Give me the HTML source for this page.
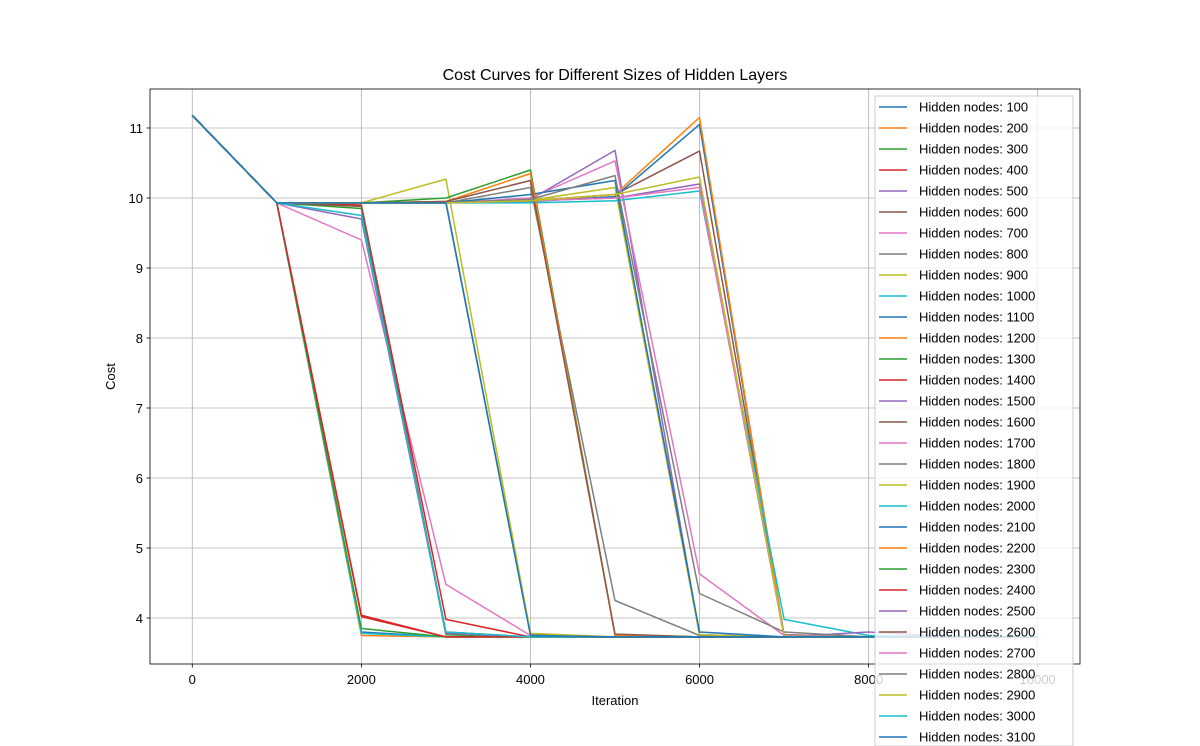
<!DOCTYPE html>
<html><head><meta charset="utf-8"><style>
html,body{margin:0;padding:0;background:#fff;width:1200px;height:746px;overflow:hidden;font-family:"Liberation Sans","DejaVu Sans",sans-serif;}
</style></head><body>
<svg id="chart" width="1200" height="746" xmlns="http://www.w3.org/2000/svg" font-family="Liberation Sans, DejaVu Sans, sans-serif"></svg>
<script>
const iterations=[0,1000,2000,3000,4000,5000,6000,7000,8000,9000,10000];
const seriesLabels=[100,200,300,400,500,600,700,800,900,1000,1100,1200,1300,1400,1500,1600,1700,1800,1900,2000,2100,2200,2300,2400,2500,2600,2700,2800,2900,3000,3100];
const s100=[11.18,9.93,3.80,3.73,3.73,3.73,3.73,3.73,3.73,3.73,3.73];
const s200=[11.18,9.93,3.75,3.73,3.73,3.73,3.73,3.73,3.73,3.73,3.73];
const s300=[11.18,9.93,9.85,3.76,3.73,3.73,3.73,3.73,3.73,3.73,3.73];
const s400=[11.18,9.93,4.04,3.73,3.73,3.73,3.73,3.73,3.73,3.73,3.73];
const s500=[11.18,9.93,9.93,9.94,9.98,10.68,3.76,3.73,3.73,3.73,3.73];
const s600=[11.18,9.93,9.93,9.93,9.96,10.05,10.67,3.76,3.73,3.73,3.73];
const s700=[11.18,9.93,9.40,4.48,3.75,3.73,3.73,3.73,3.73,3.73,3.73];
const s800=[11.18,9.93,9.93,9.95,3.76,3.73,3.73,3.73,3.73,3.73,3.73];
const s900=[11.18,9.93,9.93,10.27,3.78,3.73,3.73,3.73,3.73,3.73,3.73];
const s1000=[11.18,9.93,3.78,3.73,3.73,3.73,3.73,3.73,3.73,3.73,3.73];
const s1100=[11.18,9.93,9.93,9.93,9.95,10.02,11.05,3.75,3.73,3.73,3.73];
const s1200=[11.18,9.93,9.93,9.93,9.96,10.05,11.15,3.74,3.73,3.73,3.73];
const s1300=[11.18,9.93,9.93,10.00,10.40,3.76,3.73,3.73,3.73,3.73,3.73];
const s1400=[11.18,9.93,9.90,3.98,3.73,3.73,3.73,3.73,3.73,3.73,3.73];
const s1500=[11.18,9.93,9.70,3.78,3.73,3.73,3.73,3.73,3.73,3.73,3.73];
const s1600=[11.18,9.93,9.88,3.80,3.73,3.73,3.73,3.73,3.73,3.73,3.73];
const s1700=[11.18,9.93,9.93,9.93,10.00,10.53,4.63,3.75,3.73,3.73,3.73];
const s1800=[11.18,9.93,9.93,9.93,10.15,4.25,3.75,3.73,3.73,3.73,3.73];
const s1900=[11.18,9.93,9.93,9.93,9.97,10.15,3.76,3.73,3.73,3.73,3.73];
const s2000=[11.18,9.93,9.93,9.93,9.93,9.96,10.10,3.98,3.75,3.73,3.73];
const s2100=[11.18,9.93,9.93,9.93,10.05,10.25,3.80,3.73,3.73,3.73,3.73];
const s2200=[11.18,9.93,9.93,9.95,10.35,3.75,3.73,3.73,3.73,3.73,3.73];
const s2300=[11.18,9.93,3.85,3.73,3.73,3.73,3.73,3.73,3.73,3.73,3.73];
const s2400=[11.18,9.93,4.02,3.73,3.73,3.73,3.73,3.73,3.73,3.73,3.73];
const s2500=[11.18,9.93,9.93,9.93,9.96,10.00,10.20,3.73,3.80,3.73,3.73];
const s2600=[11.18,9.93,9.93,9.95,10.25,3.77,3.73,3.73,3.73,3.73,3.73];
const s2700=[11.18,9.93,9.93,9.93,9.96,10.00,10.15,3.74,3.73,3.73,3.73];
const s2800=[11.18,9.93,9.93,9.93,9.98,10.32,4.35,3.80,3.73,3.73,3.73];
const s2900=[11.18,9.93,9.93,9.93,9.96,10.05,10.30,3.74,3.73,3.73,3.73];
const s3000=[11.18,9.93,9.75,3.80,3.73,3.73,3.73,3.73,3.73,3.73,3.73];
const s3100=[11.18,9.93,9.93,9.93,3.75,3.73,3.73,3.73,3.73,3.73,3.73];
const allSeries=[s100,s200,s300,s400,s500,s600,s700,s800,s900,s1000,s1100,s1200,s1300,s1400,s1500,s1600,s1700,s1800,s1900,s2000,s2100,s2200,s2300,s2400,s2500,s2600,s2700,s2800,s2900,s3000,s3100];
const xTicks=[0,2000,4000,6000,8000,10000];
const yTicks=[4,5,6,7,8,9,10,11];

const colors=['#1f77b4','#ff7f0e','#2ca02c','#d62728','#9467bd','#8c564b','#e377c2','#7f7f7f','#bcbd22','#17becf'];
const L=150,R=1080,T=89,B=664;
const xMin=-500,xMax=10500,yMin=3.343,yMax=11.557;
const xs=v=>L+(v-xMin)/(xMax-xMin)*(R-L);
const ys=v=>B-(v-yMin)/(yMax-yMin)*(B-T);
const svg=document.getElementById('chart');
const NS='http://www.w3.org/2000/svg';
function mk(tag,attrs,parent){const e=document.createElementNS(NS,tag);for(const k in attrs)e.setAttribute(k,attrs[k]);(parent||svg).appendChild(e);return e;}

xTicks.forEach(t=>{const g=mk('line',{x1:xs(t),x2:xs(t),y1:T,y2:B,stroke:'#b0b0b0','stroke-width':0.8});

});
yTicks.forEach(t=>{const g=mk('line',{x1:L,x2:R,y1:ys(t),y2:ys(t),stroke:'#b0b0b0','stroke-width':0.8});

});

allSeries.forEach((s,i)=>{
  const pts=s.map((v,j)=>xs(iterations[j]).toFixed(1)+','+ys(v).toFixed(1)).join(' ');
  const p=mk('polyline',{points:pts,fill:'none',stroke:colors[i%10],'stroke-width':1.5,'stroke-linejoin':'round'});
  
  
});

const fr=mk('rect',{x:L,y:T,width:R-L,height:B-T,fill:'none',stroke:'#000','stroke-width':0.8});



xTicks.forEach(t=>{
  mk('line',{x1:xs(t),x2:xs(t),y1:B,y2:B+3.5,stroke:'#000','stroke-width':0.8});
  const tx=mk('text',{x:xs(t),y:B+20,'text-anchor':'middle','font-size':13,fill:'#000'});
  tx.textContent=t;
  
  
});
yTicks.forEach(t=>{
  mk('line',{x1:L-3.5,x2:L,y1:ys(t),y2:ys(t),stroke:'#000','stroke-width':0.8});
  const tx=mk('text',{x:L-7,y:ys(t)+5,'text-anchor':'end','font-size':13,fill:'#000'});
  tx.textContent=t;
  
  
});

const title=mk('text',{x:(L+R)/2,y:80,'text-anchor':'middle','font-size':16,fill:'#000'});
title.textContent='Cost Curves for Different Sizes of Hidden Layers';


const xl=mk('text',{x:(L+R)/2,y:705,'text-anchor':'middle','font-size':13,fill:'#000'});
xl.textContent='Iteration';


const yl=mk('text',{x:115,y:(T+B)/2,'text-anchor':'middle','font-size':13,fill:'#000',transform:'rotate(-90 115 '+((T+B)/2)+')'});
yl.textContent='Cost';



const lg=mk('g',{});


mk('rect',{x:875,y:96,width:198,height:650,fill:'#fff','fill-opacity':0.8,stroke:'#cccccc','stroke-width':1},lg);
seriesLabels.forEach((n,i)=>{
  const y=107+i*21;
  const e=mk('g',{},lg);
  
  
  mk('line',{x1:879,x2:907,y1:y,y2:y,stroke:colors[i%10],'stroke-width':1.5},e);
  const t=mk('text',{x:919,y:y+4.5,'font-size':13,fill:'#000'},e);
  t.textContent='Hidden nodes: '+n;
});
</script>
</body></html>
